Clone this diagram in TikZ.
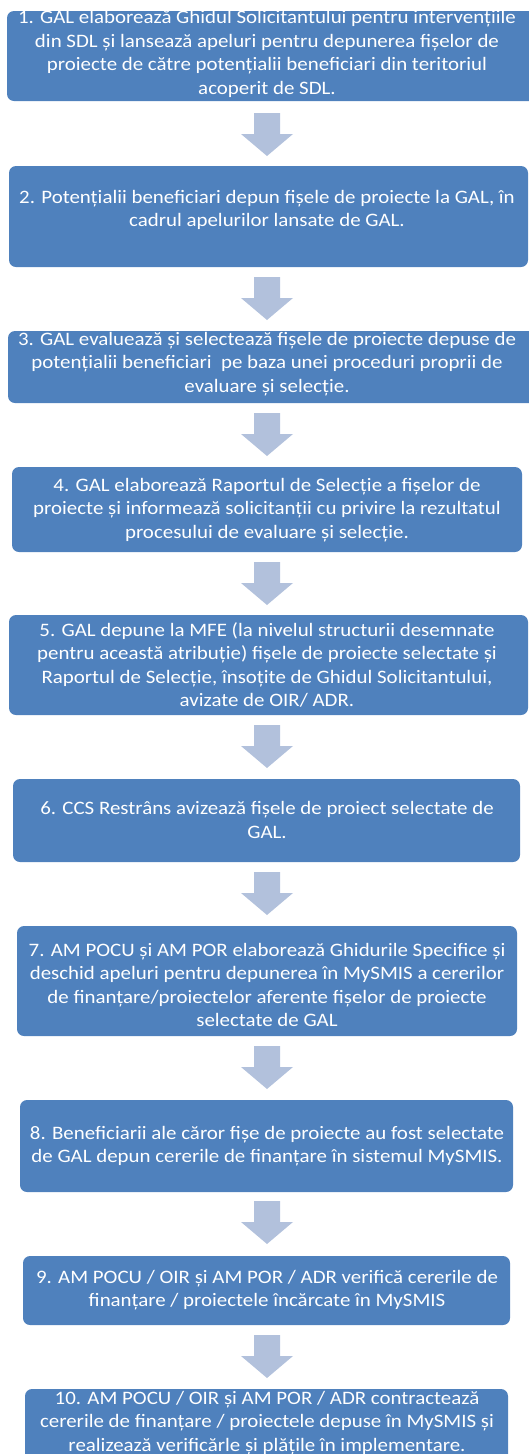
\documentclass[tikz,border=0pt]{standalone}
\usepackage{fontspec}
\setmainfont{Carlito}[FakeStretch=1.1]
\definecolor{boxblue}{HTML}{4F81BD}
\definecolor{arrowblue}{HTML}{B2C1DC}
\tikzset{
  stepbox/.style={fill=boxblue, rounded corners=7pt, draw=none},
  steptext/.style={text=white, align=center, inner sep=0pt, font=\fontsize{19}{23.5}\selectfont},
  flowarrow/.style={fill=arrowblue, draw=none}
}
\newcommand\blockarrow[1]{%
  \fill[flowarrow, shift={(#1)}] (-13,0) -- (13,0) -- (13,21) -- (26,21) -- (0,43) -- (-26,21) -- (-13,21) -- cycle;}
\begin{document}
\begin{tikzpicture}[x=1pt, y=-1pt]
\useasboundingbox (0,0) rectangle (529,1454);
\clip (0,0) rectangle (529,1454);
% boxes
\path[stepbox] (7,11) rectangle (545,101);
\node[steptext] (b1) at (267,54) {1. GAL elaborează Ghidul Solicitantului pentru intervențiile\\ din SDL și lansează apeluri pentru depunerea fișelor de\\ proiecte de către potențialii beneficiari din teritoriul\\ acoperit de SDL.};
\path[stepbox] (9,166) rectangle (528,267);
\node[steptext] (b2) at (267,210) {2. Potențialii beneficiari depun fișele de proiecte la GAL, în\\ cadrul apelurilor lansate de GAL.};
\path[stepbox] (8,331) rectangle (545,403);
\node[steptext] (b3) at (267,364) {3. GAL evaluează și selectează fișele de proiecte depuse de\\ potențialii beneficiari\ \ pe baza unei proceduri proprii de\\ evaluare și selecție.};
\path[stepbox] (12,467) rectangle (522,552);
\node[steptext] (b4) at (267,510) {4. GAL elaborează Raportul de Selecție a fișelor de\\ proiecte și informează solicitanții cu privire la rezultatul\\ procesului de evaluare și selecție.};
\path[stepbox] (9,615) rectangle (528,715);
\node[steptext] (b5) at (267,665) {5. GAL depune la MFE (la nivelul structurii desemnate\\ pentru această atribuție) fișele de proiecte selectate și\\ Raportul de Selecție, însoțite de Ghidul Solicitantului,\\ avizate de OIR/ ADR.};
\path[stepbox] (13,779) rectangle (520,862);
\node[steptext] (b6) at (267,820) {6. CCS Restrâns avizează fișele de proiect selectate de\\ GAL.};
\path[stepbox] (17,926) rectangle (517,1036);
\node[steptext] (b7) at (267,985) {7. AM POCU și AM POR elaborează Ghidurile Specifice și\\ deschid apeluri pentru depunerea în MySMIS a cererilor\\ de finanțare/proiectelor aferente fișelor de proiecte\\ selectate de GAL};
\path[stepbox] (20,1100) rectangle (513,1192);
\node[steptext] (b8) at (267,1146) {8. Beneficiarii ale căror fișe de proiecte au fost selectate\\ de GAL depun cererile de finanțare în sistemul MySMIS.};
\path[stepbox] (23,1256) rectangle (510,1325);
\node[steptext] (b9) at (267,1290) {9. AM POCU / OIR și AM POR / ADR verifică cererile de\\ finanțare / proiectele încărcate în MySMIS};
\path[stepbox] (25,1389) rectangle (508,1475);
\node[steptext] (b10) at (267,1423) {10. AM POCU / OIR și AM POR / ADR contractează\\ cererile de finanțare / proiectele depuse în MySMIS și\\ realizează verificărle și plățile în implementare.};
% arrows
\coordinate (a1) at (267,113);
\coordinate (a2) at (267,277);
\coordinate (a3) at (267,413);
\coordinate (a4) at (267,562);
\coordinate (a5) at (267,725);
\coordinate (a6) at (267,872);
\coordinate (a7) at (267,1046);
\coordinate (a8) at (267,1201);
\coordinate (a9) at (267,1335);
\foreach \k in {1,...,9} {\blockarrow{a\k}}
\end{tikzpicture}
\end{document}
